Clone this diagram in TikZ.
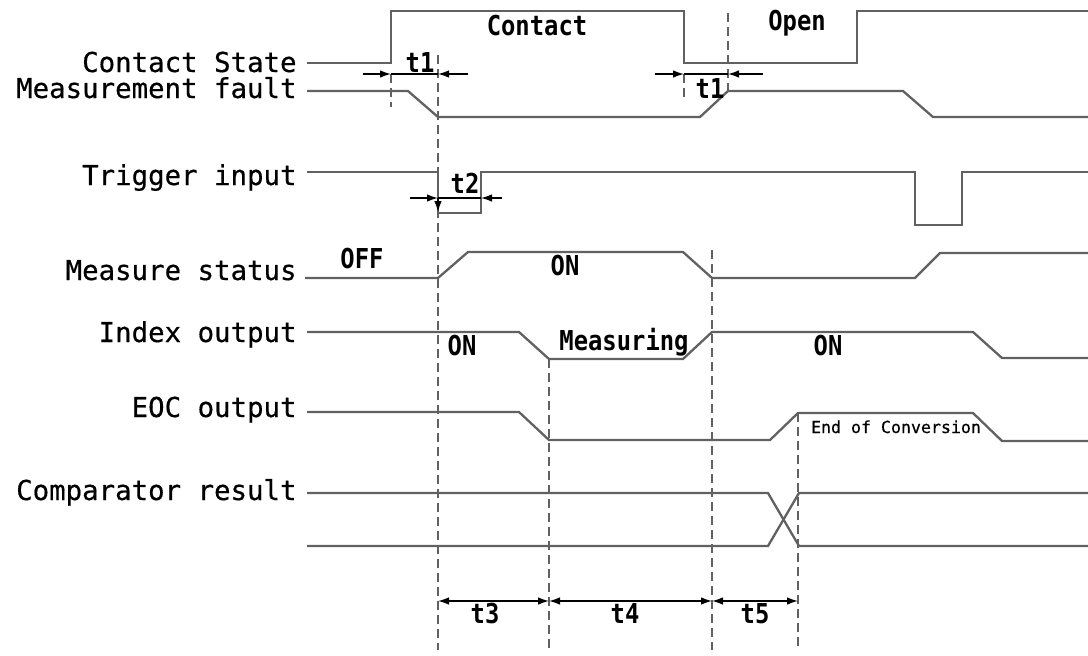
\documentclass[tikz,border=0pt]{standalone}
\usepackage{fontspec}
\usetikzlibrary{arrows.meta}
\setmonofont[FakeBold=0.5]{DejaVu Sans Mono}
\newfontfamily\tagfont[FakeStretch=0.87]{DejaVu Sans Mono}
\begin{document}
\begin{tikzpicture}[x=0.5pt,y=-0.5pt,
	>={Latex[length=5.5pt,width=3.8pt]},
	sig/.style={draw=black!62,line width=1.15pt},
	hilf/.style={draw=black!62,line width=1pt,dash pattern=on 4.5pt off 2.5pt},
	mass/.style={line width=0.75pt},
	lbl/.style={anchor=base east,inner sep=0pt,font={\ttfamily\fontsize{13.7}{16}\selectfont}},
	tag/.style={anchor=base,inner sep=0pt,font={\tagfont\bfseries\fontsize{13.7}{16}\selectfont}},
	eoc/.style={anchor=base,inner sep=0pt,font={\ttfamily\fontsize{8.3}{10}\selectfont}}]
	\useasboundingbox (0,0) rectangle (1088,655);
	% Beschriftung
	\foreach \name/\txt/\yb in {cs/Contact State/72, mf/Measurement fault/98, ti/Trigger input/185,
		ms/Measure status/280, io/Index output/342, eo/EOC output/417, cr/Comparator result/500} {
		\node [lbl] (\name) at (297,\yb) {\txt};
	}
	% Signale
	\draw [sig] (307,63) -- (391,63) |- (684,11) |- (857,63) |- (1088,11);
	\draw [sig] (307,91) -- (408,91) -- (438,117) -- (700,117) -- (728,91) -- (903,91) -- (933,117) -- (1088,117);
	\draw [sig] (307,172) -- (438,172) |- (481,213) |- (915,172) |- (962,225) |- (1088,172);
	\draw [sig] (305,278) -- (438,278) -- (468,252) -- (683,252) -- (712,278) -- (915,278) -- (940,253) -- (1088,253);
	\draw [sig] (307,332) -- (519,332) -- (549,359) -- (683,359) -- (712,332) -- (973,332) -- (1002,358) -- (1088,358);
	\draw [sig] (307,412) -- (519,412) -- (549,440) -- (770,440) -- (798,413) -- (973,413) -- (1002,441) -- (1088,441);
	\draw [sig] (307,493) -- (768,493) -- (799,546) -- (1088,546);
	\draw [sig] (307,546) -- (768,546) -- (799,493) -- (1088,493);
	% Zustaende
	\node [tag] (contact) at (537,35) {Contact};
	\node [tag] (open) at (797,30) {Open};
	\node [tag] (off) at (362,268) {OFF};
	\node [tag] (on1) at (565,275) {ON};
	\node [tag] (on2) at (462,355) {ON};
	\node [tag] (measuring) at (624,350) {Measuring};
	\node [tag] (on3) at (828,355) {ON};
	\node [eoc] (eocend) at (896,433) {End of Conversion};
	% Hilfslinien
	\foreach \x/\ya in {438/55, 549/359, 712/250, 798/413} {
		\draw [hilf] (\x,\ya) -- (\x,650);
	}
	\draw [hilf] (391,74) -- (391,107);
	\draw [hilf] (684,74) -- (684,100);
	\draw [hilf] (728,13) -- (728,90);
	% Masse oben
	\draw [mass,->] (363,74) -- (391,74);
	\draw [mass] (391,74) -- (438,74);
	\draw [mass,->] (468,74) -- (438,74);
	\node [tag] (ta) at (420,72) {t1};
	\draw [mass,->] (655,74) -- (684,74);
	\draw [mass] (684,74) -- (728,74);
	\draw [mass,->] (763,74) -- (728,74);
	\node [tag] (tb) at (710,98) {t1};
	\draw [mass,->] (410,198) -- (438,198);
	\draw [mass] (438,198) -- (481,198);
	\draw [mass,->] (502,198) -- (481,198);
	\draw [mass,->] (438,198) -- (438,212);
	\node [tag] (tc) at (465,193) {t2};
	% Masse unten
	\foreach \xa/\xb/\xt/\t in {438/549/485/t3, 549/712/625/t4, 712/798/755/t5} {
		\coordinate (\t a) at (\xa,601);
		\coordinate (\t b) at (\xb,601);
		\draw [mass,<->] (\t a) -- (\t b);
		\node [tag] (\t) at (\xt,623) {\t};
	}
\end{tikzpicture}
\end{document}
